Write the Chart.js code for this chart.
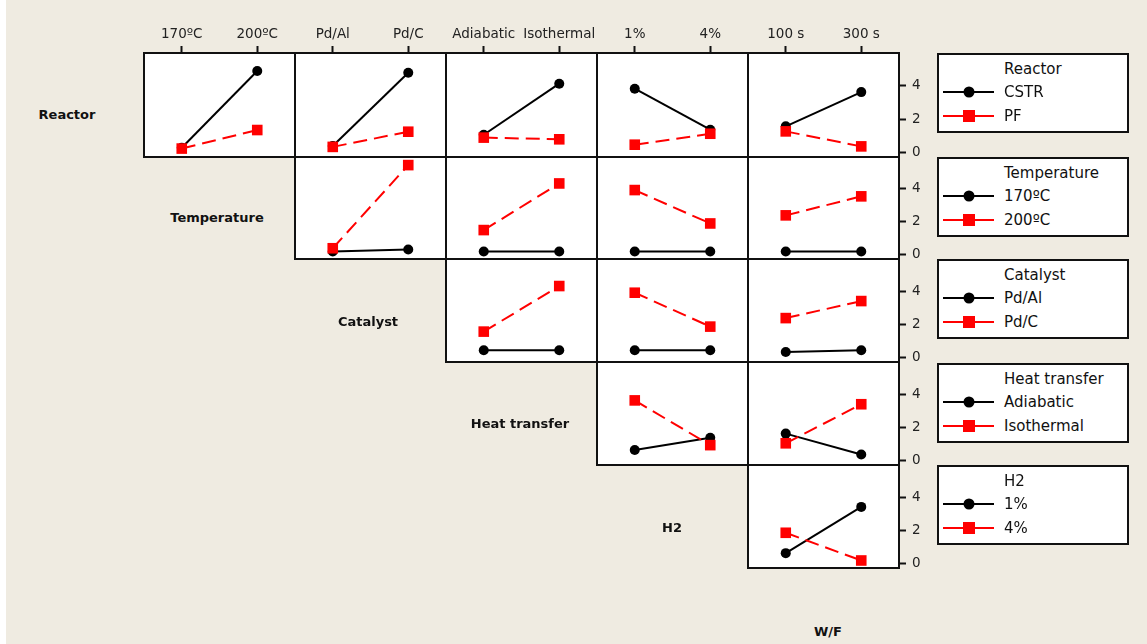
<!DOCTYPE html>
<html>
<head>
<meta charset="utf-8">
<script src="https://cdn.jsdelivr.net/npm/chart.js@4.4.1/dist/chart.umd.min.js"></script>
<style>
  html, body { margin: 0; padding: 0; background: #fff; }
  body { width: 1147px; height: 644px; position: relative; overflow: hidden; font-family: "DejaVu Sans", sans-serif; }
  #backdrop { position: absolute; left: 6px; top: 0; width: 1141px; height: 644px; background: #EFEBE1; }
  canvas { position: absolute; }
  .rowlabel { position: absolute; transform: translate(-50%, -50%); font-weight: bold; font-size: 13px; color: #111; white-space: nowrap; }
  .legend { position: absolute; left: 937px; width: 192px; height: 80px; box-sizing: border-box; border: 2px solid #111; background: #fff; }
  .legend .txt { position: absolute; left: 65px; transform: translateY(-50%); font-size: 15px; color: #111; white-space: nowrap; line-height: 1; }
  .legend .ln { position: absolute; left: 4px; width: 51px; height: 2px; transform: translateY(-50%); }
  .legend .mk { position: absolute; transform: translate(-50%, -50%); }
</style>
</head>
<body>
<div id="backdrop"></div>
<div id="stage"></div>
<script>
// Factor levels (x-axis categories and legend entries)
const reactorLevels = ['CSTR', 'PF'];
const temperatureLevels = ['170ºC', '200ºC'];
const catalystLevels = ['Pd/Al', 'Pd/C'];
const heatLevels = ['Adiabatic', 'Isothermal'];
const h2Levels = ['1%', '4%'];
const wfLevels = ['100 s', '300 s'];
const yTicks = [0, 2, 4];

// Interaction means: [first level of row factor, second level of row factor], each over the column factor levels
const reactorVsTemperature = [[0.3, 4.85], [0.25, 1.35]];
const reactorVsCatalyst    = [[0.4, 4.75], [0.35, 1.25]];
const reactorVsHeat        = [[1.07, 4.1], [0.9, 0.8]];
const reactorVsH2          = [[3.8, 1.37], [0.48, 1.13]];
const reactorVsWF          = [[1.57, 3.6], [1.27, 0.38]];

const temperatureVsCatalyst = [[0.2, 0.32], [0.4, 5.43]];
const temperatureVsHeat     = [[0.2, 0.2], [1.5, 4.32]];
const temperatureVsH2       = [[0.2, 0.2], [3.92, 1.9]];
const temperatureVsWF       = [[0.2, 0.2], [2.39, 3.54]];

const catalystVsHeat = [[0.45, 0.45], [1.57, 4.3]];
const catalystVsH2   = [[0.45, 0.45], [3.9, 1.87]];
const catalystVsWF   = [[0.35, 0.45], [2.38, 3.4]];

const heatVsH2 = [[0.65, 1.38], [3.62, 0.94]];
const heatVsWF = [[1.63, 0.38], [1.05, 3.39]];

const h2VsWF = [[0.64, 3.41], [1.86, 0.2]];

const rowNames = ['Reactor', 'Temperature', 'Catalyst', 'Heat transfer', 'H2', 'W/F'];
const rowLevels = [reactorLevels, temperatureLevels, catalystLevels, heatLevels, h2Levels];
const colLevels = [temperatureLevels, catalystLevels, heatLevels, h2Levels, wfLevels];
const panelValues = [
  [reactorVsTemperature, reactorVsCatalyst, reactorVsHeat, reactorVsH2, reactorVsWF],
  [null, temperatureVsCatalyst, temperatureVsHeat, temperatureVsH2, temperatureVsWF],
  [null, null, catalystVsHeat, catalystVsH2, catalystVsWF],
  [null, null, null, heatVsH2, heatVsWF],
  [null, null, null, null, h2VsWF]
];

// Grid geometry
const colEdges = [144, 295, 446, 597, 748, 899];
const rowEdges = [53, 157, 259, 362, 465, 568];
const AX_TOP = 34;
const AX_RIGHT = 30;
const FONT = '"DejaVu Sans", sans-serif';
const INK = '#111';

const panelFrame = {
  id: 'panelFrame',
  beforeDraw(chart) {
    const { ctx, chartArea: a } = chart;
    ctx.save();
    ctx.fillStyle = '#fff';
    ctx.fillRect(a.left, a.top, a.right - a.left, a.bottom - a.top);
    ctx.restore();
  },
  afterDraw(chart) {
    const { ctx, chartArea: a } = chart;
    ctx.save();
    ctx.lineWidth = 2;
    ctx.strokeStyle = INK;
    ctx.strokeRect(a.left, a.top, a.right - a.left, a.bottom - a.top);
    ctx.restore();
  }
};

const stage = document.getElementById('stage');

function makePanel(r, c) {
  const vals = panelValues[r][c];
  const topRow = r === 0;
  const lastCol = c === 4;
  const w = colEdges[c + 1] - colEdges[c];
  const h = rowEdges[r + 1] - rowEdges[r];
  const cw = w + 1 + (lastCol ? AX_RIGHT : 1);
  const ch = h + 1 + (topRow ? AX_TOP : 1);
  const cv = document.createElement('canvas');
  cv.width = cw; cv.height = ch;
  cv.style.width = cw + 'px'; cv.style.height = ch + 'px';
  cv.style.left = (colEdges[c] - 1) + 'px';
  cv.style.top = (rowEdges[r] - (topRow ? AX_TOP : 1)) + 'px';
  stage.appendChild(cv);

  new Chart(cv, {
    type: 'line',
    data: {
      labels: colLevels[c],
      datasets: [
        {
          label: rowLevels[r][0], data: vals[0],
          borderColor: '#000', backgroundColor: '#000', borderWidth: 2,
          pointStyle: 'circle', pointRadius: 5, pointHoverRadius: 5,
          pointBorderWidth: 0, order: 2, clip: false
        },
        {
          label: rowLevels[r][1], data: vals[1],
          borderColor: '#ff0000', backgroundColor: '#ff0000', borderWidth: 2,
          borderDash: [14, 7],
          pointStyle: 'rect', pointRadius: 7.5, pointHoverRadius: 7.5,
          pointBorderWidth: 0, order: 1, clip: false
        }
      ]
    },
    options: {
      responsive: false,
      animation: false,
      events: [],
      layout: { autoPadding: false, padding: { left: 1, right: lastCol ? 0 : 1, top: topRow ? 0 : 1, bottom: 1 } },
      plugins: { legend: { display: false }, tooltip: { enabled: false } },
      scales: {
        x: {
          type: 'category', position: 'top', offset: true, display: topRow,
          grid: { offset: false, drawOnChartArea: false, drawTicks: true, tickLength: 7, tickWidth: 2, tickColor: INK },
          border: { display: false },
          ticks: { color: '#222', font: { family: FONT, size: 13.5 }, padding: 3, maxRotation: 0, autoSkip: false },
          afterFit(s) { s.height = topRow ? AX_TOP : 0; s.paddingLeft = 0; s.paddingRight = 0; }
        },
        y: {
          type: 'linear', position: 'right', min: -0.25, max: 5.92, display: lastCol,
          afterBuildTicks(s) { s.ticks = yTicks.map(v => ({ value: v })); },
          grid: { drawOnChartArea: false, drawTicks: true, tickLength: 7, tickWidth: 2, tickColor: INK },
          border: { display: false },
          ticks: { color: '#222', font: { family: FONT, size: 13.5 }, padding: 6 },
          afterFit(s) { s.width = lastCol ? AX_RIGHT : 0; s.paddingTop = 0; s.paddingBottom = 0; }
        }
      }
    },
    plugins: [panelFrame]
  });
}

for (let r = 0; r < 5; r++) {
  for (let c = r; c < 5; c++) makePanel(r, c);
}

// Factor names along the diagonal
const labelSpots = [[67, 114], [217, 217], [368, 321], [520, 423], [672, 527], [828, 631]];
rowNames.forEach((name, i) => {
  const d = document.createElement('div');
  d.className = 'rowlabel';
  d.textContent = name;
  d.style.left = labelSpots[i][0] + 'px';
  d.style.top = labelSpots[i][1] + 'px';
  stage.appendChild(d);
});

// Legend boxes, one per row factor
const legendTops = [53, 157, 259, 363, 465];
rowLevels.forEach((levels, i) => {
  const box = document.createElement('div');
  box.className = 'legend';
  box.style.top = legendTops[i] + 'px';
  const add = (cls, css, text) => {
    const e = document.createElement('div');
    e.className = cls;
    Object.assign(e.style, css);
    if (text) e.textContent = text;
    box.appendChild(e);
  };
  add('txt', { top: '14px' }, rowNames[i]);
  const ys = [37, 61];
  const colors = ['#000', '#ff0000'];
  levels.forEach((lv, k) => {
    add('ln', { top: ys[k] + 'px', background: colors[k] });
    if (k === 0) add('mk', { left: '29.5px', top: ys[k] + 'px', width: '11px', height: '11px', borderRadius: '50%', background: '#000' });
    else add('mk', { left: '29.5px', top: ys[k] + 'px', width: '12px', height: '12px', background: '#ff0000' });
    add('txt', { top: ys[k] + 'px' }, lv);
  });
  stage.appendChild(box);
});
</script>
</body>
</html>
